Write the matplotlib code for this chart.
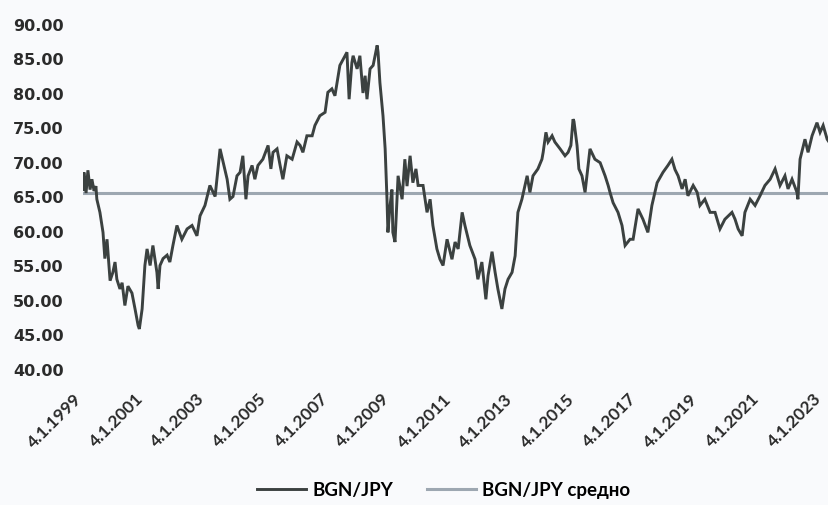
import matplotlib
matplotlib.use("Agg")
import matplotlib.pyplot as plt
import matplotlib.transforms as mtransforms

# BGN/JPY rate (decimal year, value)
years = [
    1999.00, 1999.03, 1999.10, 1999.16, 1999.23, 1999.29, 1999.36, 1999.42, 1999.45, 1999.55,
    1999.65, 1999.71, 1999.78, 1999.88, 1999.97, 2000.04, 2000.10, 2000.20, 2000.27, 2000.36,
    2000.46, 2000.59, 2000.69, 2000.79, 2000.83, 2000.92, 2001.01, 2001.08, 2001.18, 2001.27,
    2001.40, 2001.44, 2001.50, 2001.60, 2001.73, 2001.82, 2001.92, 2002.05, 2002.21, 2002.38,
    2002.54, 2002.70, 2002.80, 2002.96, 2003.12, 2003.29, 2003.45, 2003.55, 2003.68, 2003.77,
    2003.87, 2004.00, 2004.10, 2004.19, 2004.29, 2004.36, 2004.49, 2004.58, 2004.68, 2004.84,
    2005.01, 2005.10, 2005.17, 2005.30, 2005.40, 2005.49, 2005.62, 2005.79, 2005.95, 2006.05,
    2006.14, 2006.27, 2006.44, 2006.53, 2006.69, 2006.86, 2006.95, 2007.08, 2007.18, 2007.25,
    2007.34, 2007.51, 2007.57, 2007.64, 2007.73, 2007.77, 2007.90, 2007.99, 2008.09, 2008.16,
    2008.22, 2008.32, 2008.42, 2008.55, 2008.58, 2008.64, 2008.74, 2008.81, 2008.87, 2008.90,
    2008.97, 2009.03, 2009.06, 2009.13, 2009.23, 2009.36, 2009.45, 2009.52, 2009.62, 2009.71,
    2009.81, 2009.88, 2010.04, 2010.17, 2010.27, 2010.36, 2010.49, 2010.59, 2010.69, 2010.82,
    2010.98, 2011.08, 2011.18, 2011.31, 2011.40, 2011.56, 2011.73, 2011.82, 2011.95, 2012.08,
    2012.15, 2012.28, 2012.38, 2012.47, 2012.60, 2012.70, 2012.80, 2012.93, 2013.03, 2013.12,
    2013.25, 2013.42, 2013.51, 2013.61, 2013.77, 2013.90, 2013.94, 2014.03, 2014.10, 2014.23,
    2014.32, 2014.49, 2014.65, 2014.75, 2014.84, 2014.91, 2014.94, 2015.04, 2015.10, 2015.20,
    2015.30, 2015.40, 2015.46, 2015.62, 2015.79, 2015.95, 2016.05, 2016.11, 2016.21, 2016.37,
    2016.50, 2016.60, 2016.76, 2016.86, 2017.02, 2017.18, 2017.34, 2017.47, 2017.64, 2017.83,
    2017.99, 2018.12, 2018.22, 2018.32, 2018.45, 2018.55, 2018.64, 2018.81, 2018.94, 2019.03,
    2019.19, 2019.36, 2019.52, 2019.68, 2019.84, 2020.07, 2020.17, 2020.27, 2020.40, 2020.49,
    2020.66, 2020.82, 2020.98, 2021.14, 2021.31, 2021.47, 2021.63, 2021.79, 2021.89, 2022.02,
    2022.18, 2022.21, 2022.28, 2022.44, 2022.54, 2022.67, 2022.83, 2022.93, 2023.03, 2023.16,
    2023.22,
]
rate = [
    66.0, 68.5, 65.5, 68.8, 66.0, 67.5, 65.8, 66.5, 64.6, 62.7,
    59.8, 56.0, 58.8, 52.8, 54.0, 55.5, 53.0, 51.6, 52.5, 49.2,
    52.0, 51.0, 48.7, 46.3, 45.8, 48.7, 55.0, 57.4, 55.0, 57.9,
    54.0, 51.6, 55.0, 56.0, 56.5, 55.5, 57.9, 60.8, 58.8, 60.3,
    60.8, 59.3, 62.2, 63.7, 66.6, 65.0, 71.9, 70.0, 67.5, 64.6,
    65.0, 68.0, 68.5, 70.9, 64.6, 68.0, 69.5, 67.5, 69.5, 70.4,
    72.4, 69.0, 71.4, 71.9, 69.5, 67.5, 70.9, 70.4, 72.9, 72.4,
    71.4, 73.8, 73.8, 75.3, 76.7, 77.2, 80.1, 80.6, 79.6, 81.5,
    84.0, 85.4, 85.9, 79.1, 84.4, 85.4, 83.5, 85.4, 80.0, 82.5,
    79.1, 83.5, 84.0, 86.9, 85.9, 81.5, 76.7, 71.9, 64.6, 59.8,
    63.7, 66.0, 59.8, 58.4, 68.0, 64.6, 70.4, 66.5, 70.9, 67.0,
    69.0, 66.6, 66.6, 62.7, 64.6, 60.8, 57.4, 55.9, 55.0, 58.8,
    55.9, 58.4, 57.4, 62.7, 60.8, 57.9, 55.9, 53.0, 55.5, 50.1,
    53.5, 57.0, 54.0, 51.6, 48.7, 51.6, 53.0, 54.0, 56.4, 62.7,
    64.6, 68.0, 65.6, 68.0, 69.0, 70.4, 71.4, 74.3, 72.9, 73.8,
    72.9, 71.9, 70.9, 71.4, 72.4, 76.2, 75.9, 72.4, 69.0, 68.0,
    65.6, 69.5, 71.9, 70.4, 69.9, 68.0, 66.6, 65.6, 64.1, 62.7,
    60.8, 57.9, 58.8, 58.8, 63.2, 61.7, 59.8, 63.7, 67.0, 68.5,
    69.5, 70.4, 68.9, 68.0, 66.1, 67.5, 65.1, 66.6, 65.6, 63.7,
    64.6, 62.7, 62.7, 60.3, 61.7, 62.7, 61.7, 60.3, 59.3, 62.7,
    64.6, 63.7, 65.1, 66.6, 67.5, 69.0, 66.6, 68.0, 66.1, 67.5,
    65.6, 64.6, 70.4, 73.3, 71.4, 73.8, 75.7, 74.3, 75.3, 73.3,
    72.9,
]
mean_rate = 65.5

tick_years = [1999, 2001, 2003, 2005, 2007, 2009, 2011, 2013, 2015, 2017, 2019, 2021, 2023]
tick_labels = ["4.1." + str(y) for y in tick_years]
y_ticks = [40, 45, 50, 55, 60, 65, 70, 75, 80, 85, 90]

bg = "#f9fafc"
fig = plt.figure(figsize=(8.29, 5.06), dpi=100, facecolor=bg)
ax = fig.add_axes([0.1001, 0.2688, 0.8999, 0.6818], facecolor=bg)

ax.plot(years, rate, color="#3b4140", lw=2.1, label="BGN/JPY", zorder=3,
        solid_joinstyle="miter")
ax.plot([years[0], years[-1]], [mean_rate, mean_rate], color="#9da7b1", lw=2.2,
        label="BGN/JPY средно", zorder=2)

ax.set_xlim(years[0], years[-1])
ax.set_ylim(40, 90)
for s in ax.spines.values():
    s.set_visible(False)

ax.set_yticks(y_ticks)
ax.set_yticklabels(["%.2f" % v for v in y_ticks], fontsize=11.5, fontweight="bold",
                   color="#2b2b2b", family="DejaVu Sans")
ax.set_xticks([y + 3 / 365 for y in tick_years])
ax.set_xticklabels(tick_labels, rotation=45, ha="right", rotation_mode="anchor",
                   fontsize=12.5, fontweight="bold", color="#2b2b2b",
                   family=["Lato", "DejaVu Sans"])
ax.tick_params(axis="y", length=0, pad=14)
ax.tick_params(axis="x", length=0, pad=15)
shift = mtransforms.ScaledTranslation(-7 / 72, 0, fig.dpi_scale_trans)
for lab in ax.get_xticklabels():
    lab.set_transform(lab.get_transform() + shift)

fig.legend(loc="center", bbox_to_anchor=(0.535, 0.03), ncol=2, frameon=False,
           handlelength=2.6, handletextpad=0.35, columnspacing=1.8,
           prop={"family": ["Lato", "Open Sans", "DejaVu Sans"], "weight": "bold", "size": 13.5})

fig.savefig("out.png", dpi=100, facecolor=bg)
